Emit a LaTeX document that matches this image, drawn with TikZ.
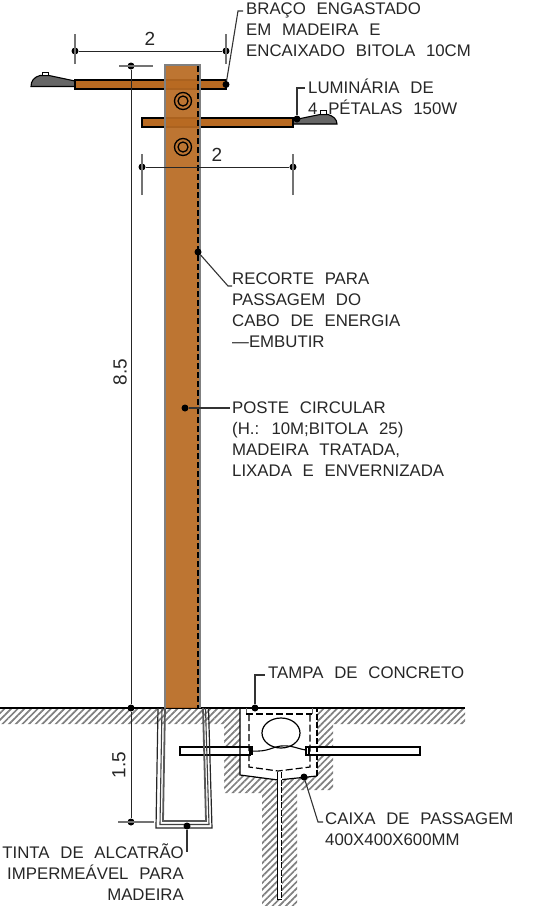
\documentclass[tikz,border=0pt]{standalone}
\usepackage{fontspec}
\usepackage{xcolor}
\setmainfont[WordSpace=2.3]{Liberation Sans}
\usetikzlibrary{patterns.meta}
\definecolor{wood}{HTML}{B86A22}
\definecolor{lampgray}{HTML}{666666}
\newcommand{\notefont}{\fontsize{16.8}{21}\selectfont}
\tikzset{
  note/.style={font=\notefont,align=left,inner sep=0pt,anchor=north west,text=black!85},
  noter/.style={note,align=right,anchor=north east},
  dimtext/.style={font=\fontsize{19}{20}\selectfont,inner sep=0pt,text=black!85},
  pt/.style={circle,fill=black,inner sep=0pt,minimum size=7pt},
  dimline/.style={line width=1pt,black!85},
  tick/.style={line width=1.1pt,black!55},
  leader/.style={line width=1.1pt,black!80},
  arm/.style={fill=wood,draw=black,line width=1.6pt},
  lamp/.style={fill=lampgray,draw=black,line width=1.1pt},
  tube/.style={fill=white,draw=black,line width=1.3pt},
  hatching/.style={pattern={Lines[angle=45,distance=4.7pt,line width=1.7pt]},pattern color=black!50},
}
\begin{document}
\begin{tikzpicture}[x=1pt,y=-1pt]
\useasboundingbox (0,0) rectangle (551,906);
% ground
\path[hatching] (0,708) -- (240,708) -- (240,775) -- (278,780) -- (317,776) -- (317,708) -- (465,708)
  -- (465,724) -- (333,724) -- (333,790) -- (297,790) -- (297,906) -- (262,906) -- (262,793)
  -- (224,793) -- (224,724) -- (0,724) -- cycle;
\draw[line width=1.2pt] (0,708) -- (465,708);
% lamps and arms
\draw[lamp] (75,81) -- (49,75.5) -- (40,75.5) .. controls (34,77) and (31,81) .. (31,86.5) -- (75,86.5) -- cycle;
\draw[fill=white,line width=.9pt] (42,72) rectangle (48,75.5);
\draw[lamp] (293,120) -- (320,114.5) -- (328,114.5) .. controls (333,116) and (337,119) .. (337,124) -- (293,124) -- cycle;
\draw[fill=white,line width=.9pt] (320,110.5) rectangle (326,114.5);
\draw[arm] (75,80) rectangle (226,89);
\draw[arm] (142,118) rectangle (293,127);
% pole
\fill[wood,opacity=.93] (165,65) rectangle (200,708);
\draw[line width=1.1pt,black!50] (165,708) -- (165,65) -- (200,65) -- (200,708);
\draw[line width=1.2pt,dash pattern=on 6pt off 3pt] (198,66) -- (198,708);
\foreach \name/\yb in {boltA/101,boltB/147}{
  \node[circle,draw=black,line width=1.3pt,minimum size=17pt,inner sep=0pt] (\name) at (183,\yb) {};
  \node[circle,draw=black,line width=1.3pt,minimum size=10pt,inner sep=0pt] at (\name) {};
}
% conduits
\draw[tube] (180,747) rectangle (250,755);
\draw[tube,line width=1.7pt] (308,747) rectangle (420,755);
\draw[tube] (250,747) rectangle (252,754);
\draw[tube,line width=1.5pt] (306,747) rectangle (309,755);
% foundation
\draw[line width=1.2pt,black!85] (158,708) -- (156,828) -- (212,828) -- (208.5,708);
\draw[line width=1.1pt,black!75] (162,708) -- (160,824.5) -- (209,824.5) -- (205.5,708);
\draw[line width=1.8pt,black!65] (165,708) -- (163,821) -- (206,821) -- (203,708);
% box
\draw[line width=1.2pt] (240,708) -- (240,775) -- (278,780) -- (317,776);
\draw[line width=1.2pt,dash pattern=on 6pt off 2pt] (317,776) -- (317,708);
\draw[line width=1.3pt,dash pattern=on 7pt off 3pt] (240,708) -- (317,708);
\draw[line width=.9pt,black!60] (246,708) -- (246,714) (312,714) -- (312,708);
\draw[line width=1.2pt,dash pattern=on 7pt off 3pt] (246,714) -- (312,714);
\draw[line width=1.2pt,dash pattern=on 7pt off 3pt] (249,714) -- (249,767) -- (278,771) -- (310,767) -- (310,714);
\draw[line width=1.2pt] (281,733) ellipse (19pt and 15pt);
\draw[line width=1.1pt] (252,751) .. controls (268,752) and (272,747) .. (281,746) .. controls (292,745) and (298,749) .. (306,750);
\fill[white] (277.5,772) rectangle (281.5,899);
\draw[line width=1pt] (277.5,772) -- (277.5,899) -- (281.5,899);
\draw[line width=1.3pt,dash pattern=on 6pt off 1.5pt] (281.5,772) -- (281.5,899);
% dimensions
\node[pt] (dimA) at (75,51) {};
\node[pt] (dimB) at (226,51) {};
\node[pt] (dimC) at (142,167) {};
\node[pt] (dimD) at (293,167) {};
\node[pt] (dimE) at (131,66) {};
\node[pt] (dimF) at (131,708) {};
\node[pt] (dimG) at (131,822) {};
\draw[dimline] (dimA) -- (dimB);
\draw[dimline] (dimC) -- (dimD);
\draw[dimline] (dimE) -- (dimF);
\draw[dimline] (dimF) -- (dimG);
\foreach \name in {dimA,dimB}
  \draw[tick] ([yshift=-13pt]\name.center) -- ([yshift=17pt]\name.center);
\foreach \name in {dimC,dimD}
  \draw[tick] ([yshift=-28pt]\name.center) -- ([yshift=13pt]\name.center);
\draw[tick] ([xshift=-12pt]dimE.center) -- ([xshift=22pt]dimE.center);
\draw[tick] ([xshift=-13pt]dimG.center) -- ([xshift=23pt]dimG.center);
\node[dimtext] (lenA) at (150,39) {2};
\node[dimtext] (lenB) at (217,155) {2};
\node[dimtext,rotate=90] (lenC) at (120,372) {8.5};
\node[dimtext,rotate=90] (lenD) at (119,765) {1.5};
% notes
\node[note] (armnote) at (246,3) {BRAÇO ENGASTADO\\EM MADEIRA E\\ENCAIXADO BITOLA 10CM};
\node[note] (lampnote) at (308,79) {LUMINÁRIA DE\\4 PÉTALAS 150W};
\node[note] (cutnote) at (232,273) {RECORTE PARA\\PASSAGEM DO\\CABO DE ENERGIA\\—EMBUTIR};
\node[note] (polenote) at (232,402) {POSTE CIRCULAR\\(H.: 10M;BITOLA 25)\\MADEIRA TRATADA,\\LIXADA E ENVERNIZADA};
\node[note] (lidnote) at (268,667) {TAMPA DE CONCRETO};
\node[note] (boxnote) at (325,813) {CAIXA DE PASSAGEM\\400X400X600MM};
\node[noter] (tarnote) at (184,844) {TINTA DE ALCATRÃO\\IMPERMEÁVEL PARA\\MADEIRA};
% leaders
\node[pt] (armdot) at (226,84.5) {};
\node[pt] (lampdot) at (297,119) {};
\node[pt] (cutdot) at (198,252) {};
\node[pt] (poledot) at (185,408) {};
\node[pt] (liddot) at (255,708) {};
\node[pt] (boxdot) at (304,777) {};
\node[pt] (tardot) at (187,826) {};
\coordinate (armbend) at (238,11);
\coordinate (lampbend) at (297,88);
\coordinate (cutbend) at (228,286);
\coordinate (lidbend) at (255,675);
\coordinate (boxbend) at (318,822);
\coordinate (tarend) at (187,852);
\draw[leader] (armdot) -- (armbend) -- ([xshift=-3pt]armnote.west |- armbend);
\draw[leader] (lampdot) -- (lampbend) -- ([xshift=-3pt]lampnote.west |- lampbend);
\draw[leader] (cutdot) -- (cutbend) -- (cutnote.west |- cutbend);
\draw[leader] (poledot) -- ([xshift=-2pt]poledot -| polenote.west);
\draw[leader] (liddot) -- (lidbend) -- ([xshift=-3pt]lidnote.west |- lidbend);
\draw[leader] (boxdot) -- (boxbend) -- ([xshift=-2pt]boxnote.west |- boxbend);
\draw[leader] (tardot) -- (tarend);
\end{tikzpicture}
\end{document}
